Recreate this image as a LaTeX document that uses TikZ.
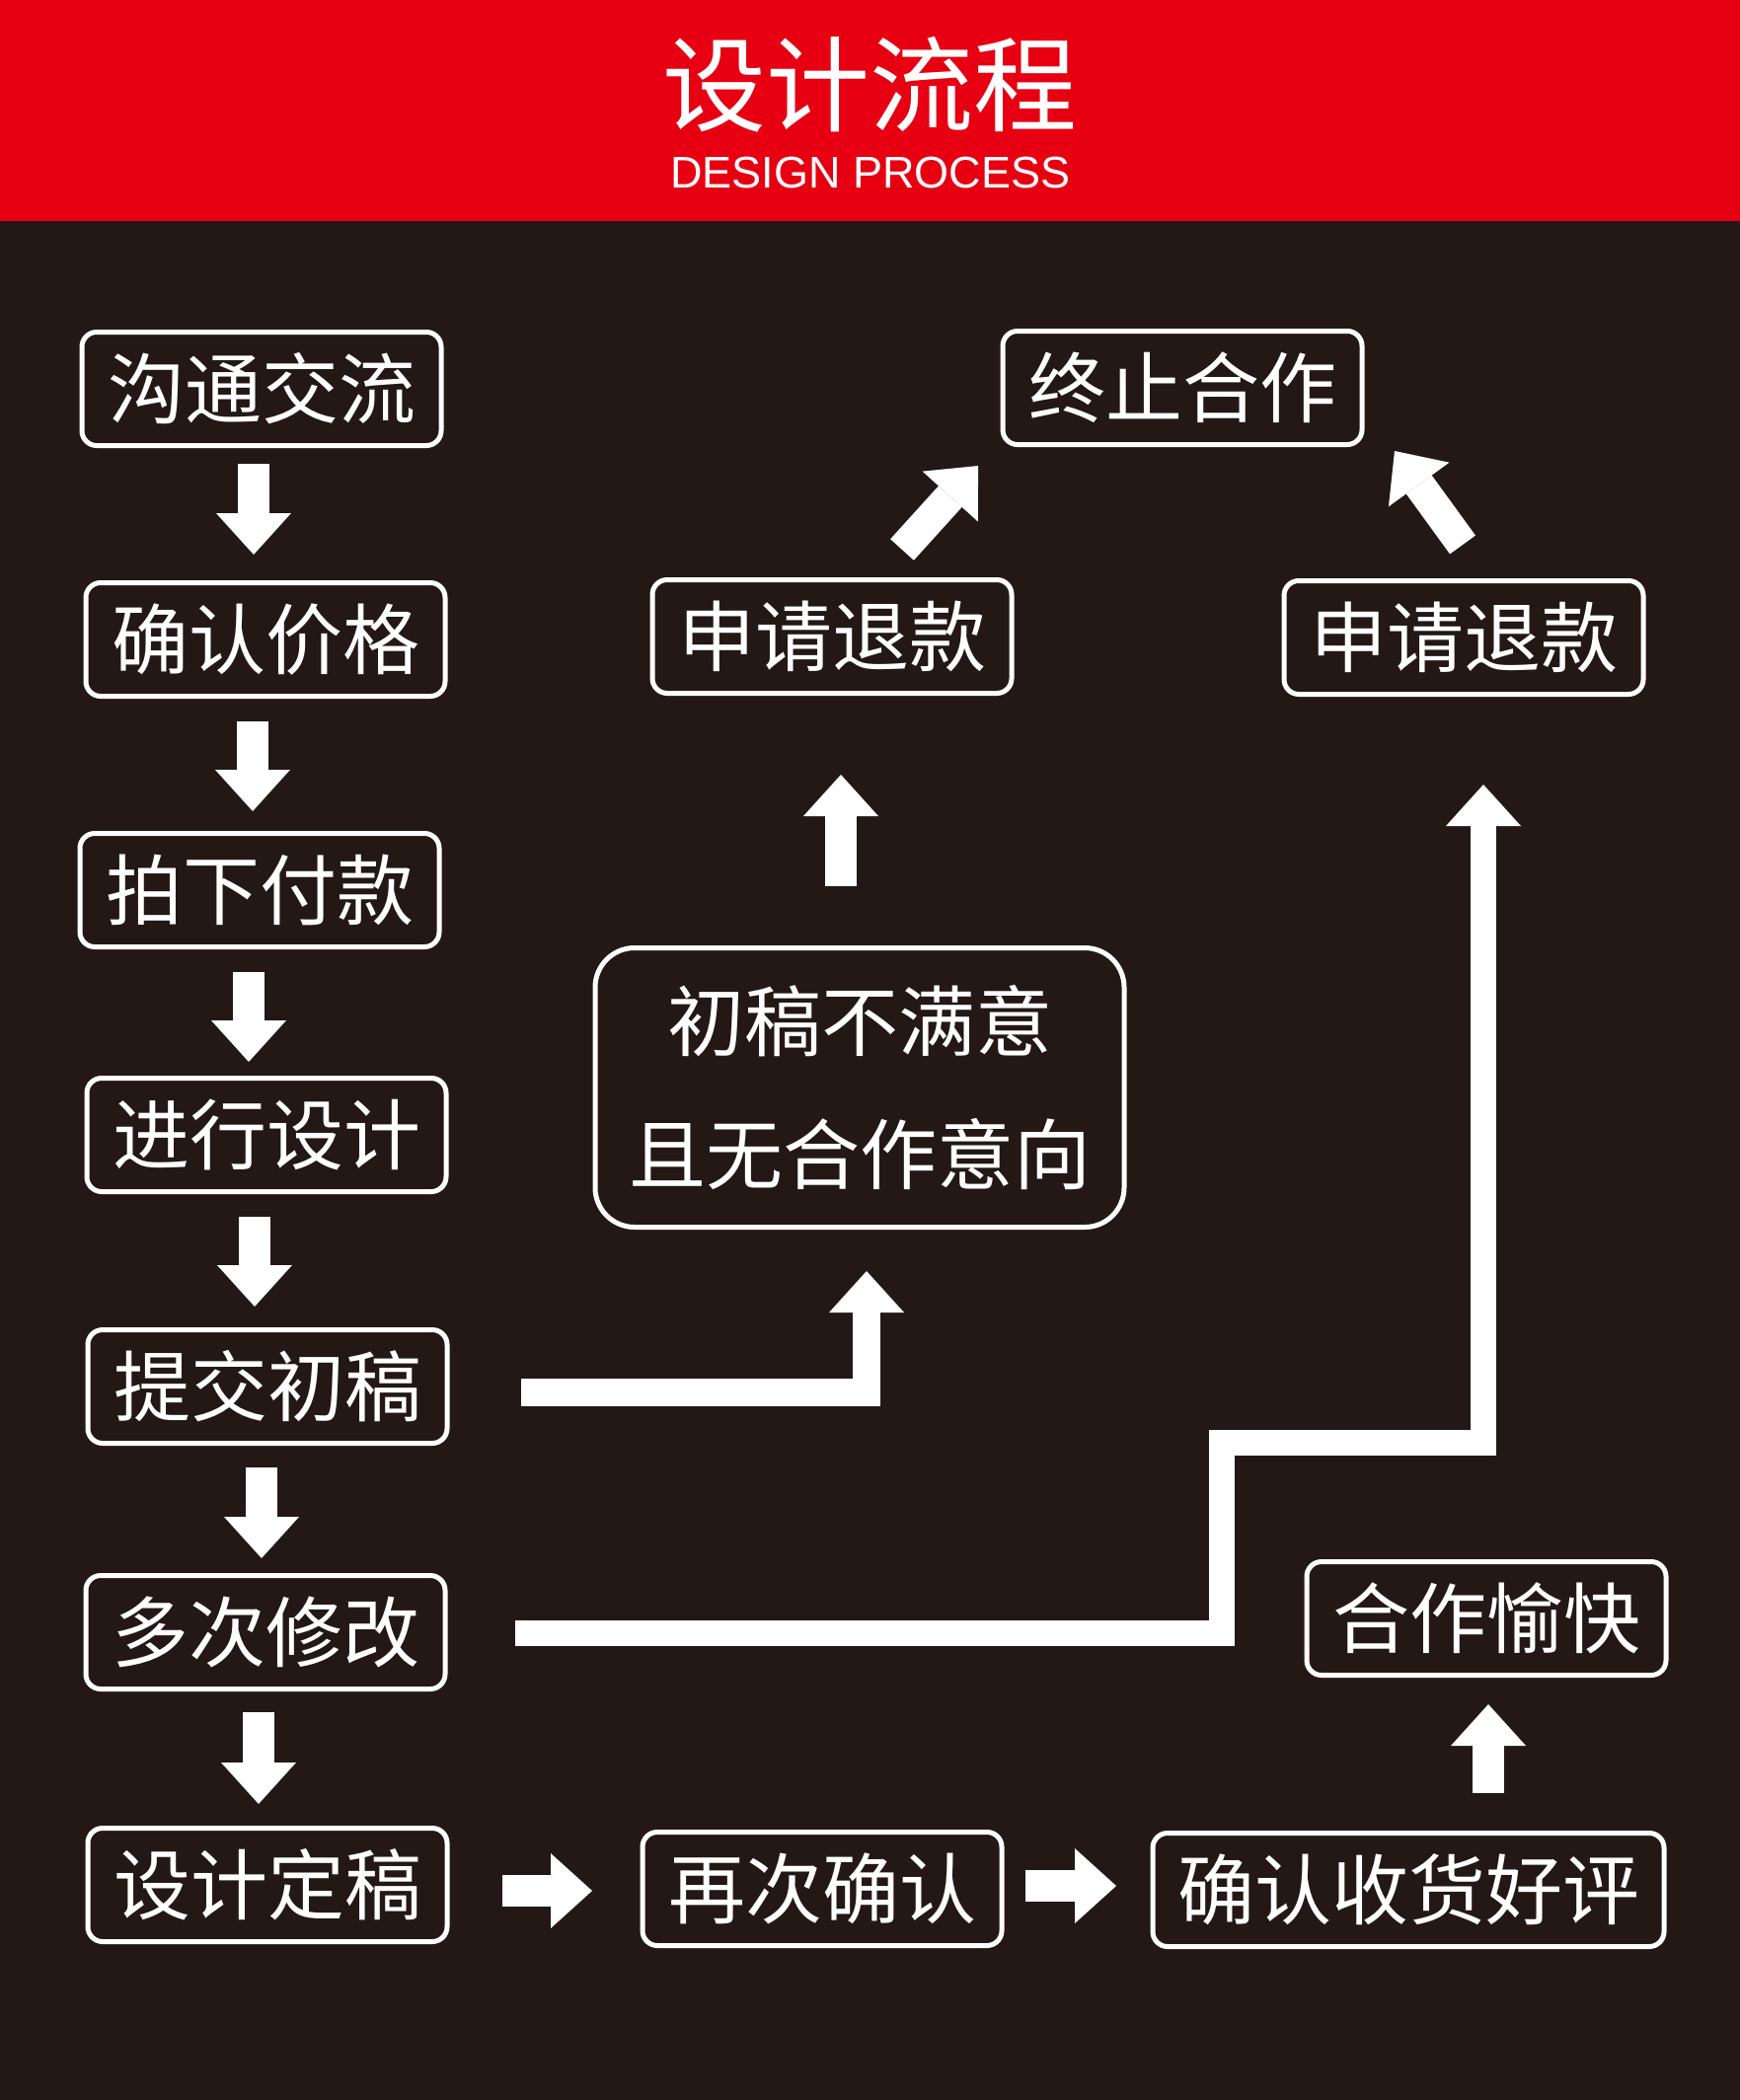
\documentclass[tikz,border=0pt]{standalone}
\usepackage{fontspec}
\setmainfont{Liberation Sans}
\newfontfamily\cjk{Noto Sans CJK SC}
\usetikzlibrary{arrows.meta}
\definecolor{bgdark}{HTML}{231815}
\definecolor{hdred}{HTML}{E60012}
\tikzset{
  stepbox/.style={draw=white, line width=5pt, rounded corners=15pt,
    minimum width=364pt, minimum height=115pt, inner sep=0pt, text=white,
    font=\cjk\fontsize{78}{94}\selectfont},
  blockarrow/.style={draw=white, line width=32pt,
    -{Triangle[width=76pt,length=42pt,line width=0pt]}},
}
\begin{document}
\begin{tikzpicture}[x=1pt,y=-1pt]
\useasboundingbox (0,0) rectangle (1763,2128);
\fill[bgdark] (0,0) rectangle (1763,2128);
\fill[hdred] (0,0) rectangle (1763,224);

\node[text=white, inner sep=0pt] (title) at (881,86) {\cjk\fontsize{105}{120}\selectfont 设计流程};
\node[text=white, inner sep=0pt] (subtitle) at (882,175) {\fontsize{45}{50}\selectfont DESIGN PROCESS};

% left column
\node[stepbox] (n1) at (265,394) {沟通交流};
\node[stepbox] (n2) at (269,648) {确认价格};
\node[stepbox] (n3) at (263,902) {拍下付款};
\node[stepbox] (n4) at (270,1150) {进行设计};
\node[stepbox] (n5) at (271,1405) {提交初稿};
\node[stepbox] (n6) at (269,1654) {多次修改};
\node[stepbox] (n7) at (271,1910) {设计定稿};

% bottom row
\node[stepbox] (r1) at (833,1914) {再次确认};
\node[stepbox, minimum width=518pt] (r2) at (1427,1915) {确认收货好评};
\node[stepbox] (r3) at (1506,1640) {合作愉快};

% middle / top
\node[stepbox, minimum width=536pt, minimum height=283pt, rounded corners=40pt,
      align=center, font=\cjk\fontsize{78}{135}\selectfont] (big) at (871,1102) {初稿不满意\\且无合作意向};
\node[stepbox] (refL) at (843,645) {申请退款};
\node[stepbox] (refR) at (1483,646) {申请退款};
\node[stepbox] (stop) at (1198,393) {终止合作};

% arrow end points
\coordinate (a1s) at (257,470);  \coordinate (a1e) at (257,562);
\coordinate (a2s) at (256,731);  \coordinate (a2e) at (256,822);
\coordinate (a3s) at (252,985);  \coordinate (a3e) at (252,1076);
\coordinate (a4s) at (258,1233); \coordinate (a4e) at (258,1324);
\coordinate (a5s) at (265,1487); \coordinate (a5e) at (265,1579);
\coordinate (a6s) at (262,1735); \coordinate (a6e) at (262,1828);
\coordinate (h1s) at (509,1916); \coordinate (h1e) at (600,1916);
\coordinate (h2s) at (1039,1911); \coordinate (h2e) at (1131,1911);
\coordinate (u1s) at (1508,1817); \coordinate (u1e) at (1508,1727);
\coordinate (u2s) at (852,898);  \coordinate (u2e) at (852,785);
\coordinate (dLs) at (914,557);  \coordinate (dLe) at (991,472);
\coordinate (dRs) at (1482,552); \coordinate (dRe) at (1413,457);
\coordinate (b1s) at (528,1411); \coordinate (b1e) at (878,1288);
\coordinate (s2s) at (522,1655); \coordinate (s2m) at (1238,1462); \coordinate (s2e) at (1503,795);

\draw[blockarrow] (a1s) -- (a1e);
\draw[blockarrow] (a2s) -- (a2e);
\draw[blockarrow] (a3s) -- (a3e);
\draw[blockarrow] (a4s) -- (a4e);
\draw[blockarrow] (a5s) -- (a5e);
\draw[blockarrow] (a6s) -- (a6e);
\draw[blockarrow] (h1s) -- (h1e);
\draw[blockarrow] (h2s) -- (h2e);
\draw[blockarrow] (u1s) -- (u1e);
\draw[blockarrow] (u2s) -- (u2e);
\draw[blockarrow] (dLs) -- (dLe);
\draw[blockarrow] (dRs) -- (dRe);
\draw[blockarrow, line width=28pt] (b1s) -| (b1e);
\draw[blockarrow, line width=26pt] (s2s) -| (s2m) -| (s2e);
\end{tikzpicture}
\end{document}
